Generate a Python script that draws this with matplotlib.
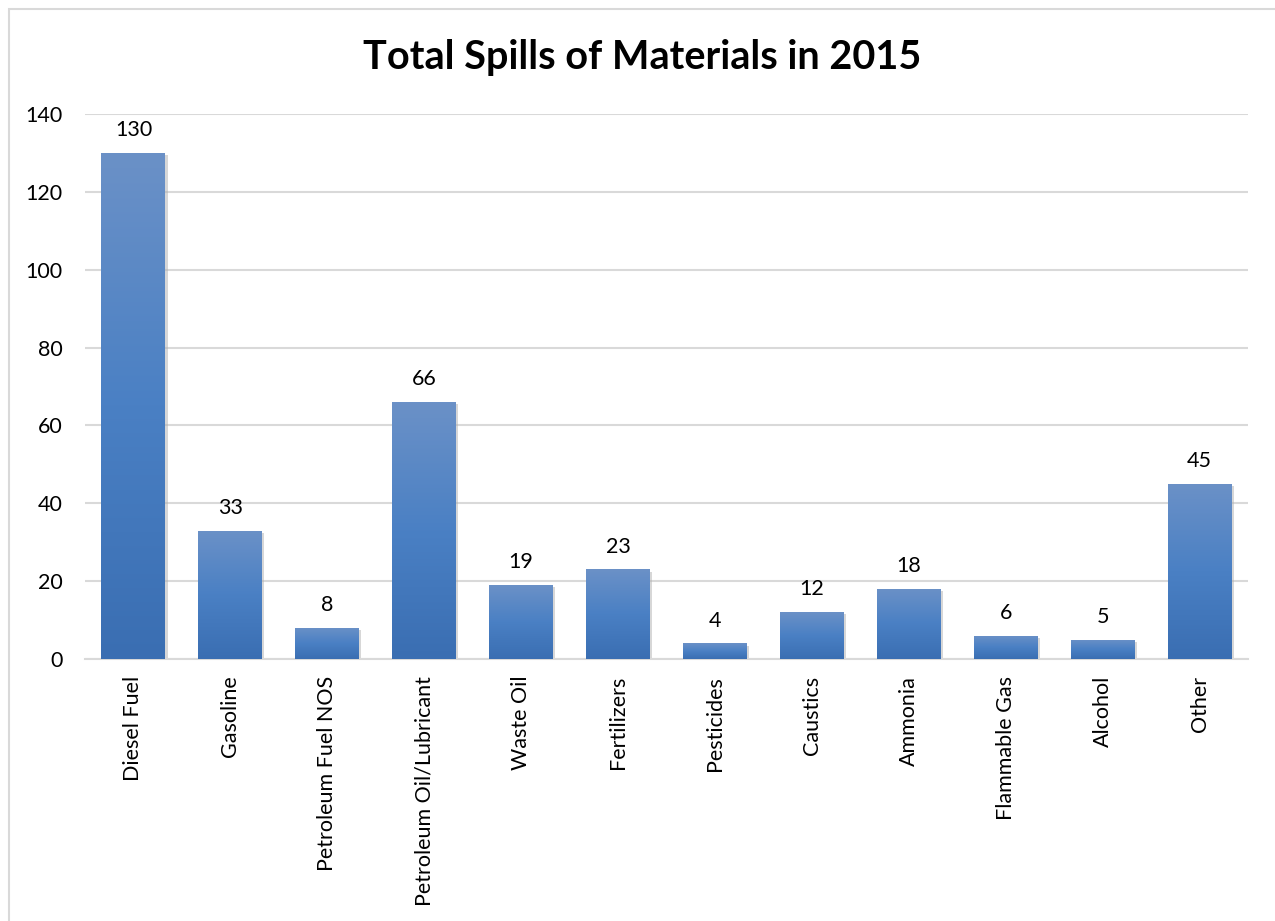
import numpy as np
import matplotlib.pyplot as plt
from matplotlib.colors import LinearSegmentedColormap
from matplotlib.patches import Rectangle
import matplotlib.patheffects as pe

materials = ["Diesel Fuel", "Gasoline", "Petroleum Fuel NOS", "Petroleum Oil/Lubricant",
             "Waste Oil", "Fertilizers", "Pesticides", "Caustics", "Ammonia",
             "Flammable Gas", "Alcohol", "Other"]
spills = [130, 33, 8, 66, 19, 23, 4, 12, 18, 6, 5, 45]

plt.rcParams['font.family'] = ['Lato', 'DejaVu Sans']

fig = plt.figure(figsize=(12.75, 9.21), dpi=100)
ax = fig.add_axes([85/1275, 1 - 659/921, 1163/1275, 545/921])

# light frame around the chart
fig.patches.append(Rectangle((9/1275, -0.01), 1.2, 1 - 9/921 + 0.01, transform=fig.transFigure,
                             fill=False, edgecolor="#d9d9d9", linewidth=1.5))

cmap = LinearSegmentedColormap.from_list("blues", ["#3a6eb2", "#4a80c4", "#6b91c7"])
grad = np.linspace(0, 1, 256).reshape(-1, 1)

x = np.arange(len(materials))
bars = ax.bar(x, spills, width=0.66, color="#4a7fc4", zorder=2,
              path_effects=[pe.SimplePatchShadow(offset=(1.5, -1.5), shadow_rgbFace="#b0b0b0", alpha=0.5),
                            pe.Normal()])
for b, v in zip(bars, spills):
    x0 = b.get_x()
    im = ax.imshow(grad, cmap=cmap, origin="lower", aspect="auto",
                   extent=(x0, x0 + b.get_width(), 0, v), zorder=3)
    im.set_clip_path(b)
    ax.text(b.get_x() + b.get_width() / 2, v + 3.3, str(v), ha="center", va="bottom",
            fontsize=15.5, color="#000000")

ax.set_xlim(-0.5, len(materials) - 0.5)
ax.set_ylim(0, 140)
ax.set_yticks(range(0, 141, 20))
ax.yaxis.grid(True, color="#d9d9d9", linewidth=1.5, zorder=0)
ax.set_axisbelow(True)
for s in ["top", "right", "left"]:
    ax.spines[s].set_visible(False)
ax.spines["bottom"].set_color("#d9d9d9")
ax.spines["bottom"].set_linewidth(1.5)
ax.tick_params(axis="y", length=0, labelsize=15.5, pad=16)
ax.tick_params(axis="x", length=0, labelsize=15.5, pad=12)
ax.set_xticks(x)
ax.set_xticklabels(materials, rotation=90)

fig.suptitle("Total Spills of Materials in 2015", x=642/1275, y=1 - 57/921, va="center",
             fontsize=28.5, fontweight="bold")

fig.savefig("out.png", dpi=100)
